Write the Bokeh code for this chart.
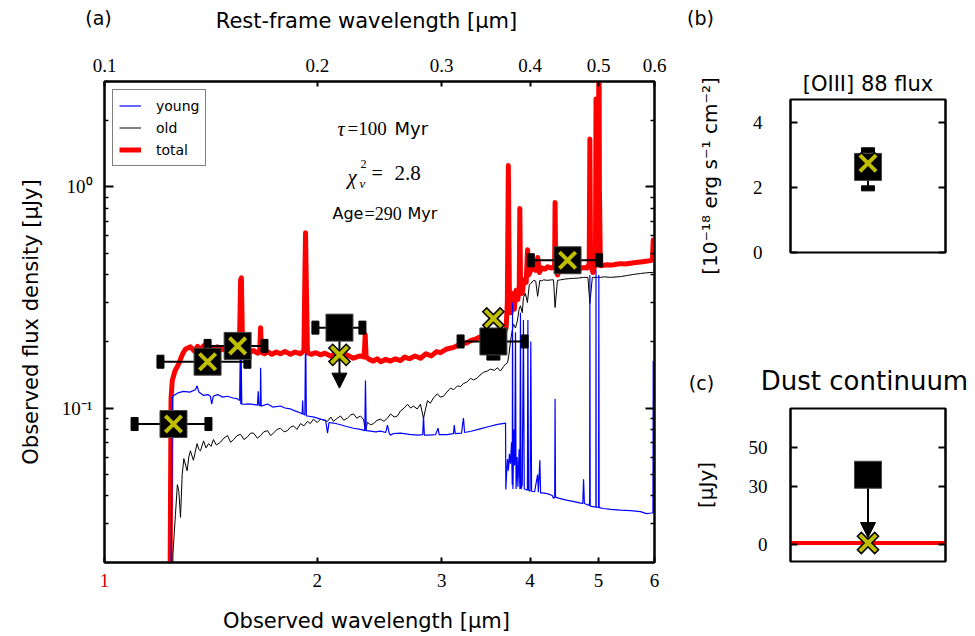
import math
from bokeh.plotting import figure
from bokeh.models import (Range1d, LogAxis, LinearAxis, FixedTicker, CustomJSTickFormatter,
                          Label, Arrow, NormalHead, Legend, LegendItem, LogScale, Span, Title)
from bokeh.layouts import row, column
from bokeh.embed import file_html
from bokeh.resources import INLINE
from bokeh.core.properties import value

# ---------------- data ----------------
redshift = 9.0
wl_range = [1.0, 6.0]          # observed wavelength [um]
flux_range = [0.02, 3.0]       # uJy

x_ticks = [1, 2, 3, 4, 5, 6]
x_tick_labels = ["1", "2", "3", "4", "5", "6"]
rest_ticks = [0.1, 0.2, 0.3, 0.4, 0.5, 0.6]
y_major = [0.1, 1.0]
y_minor = [0.02, 0.03, 0.04, 0.05, 0.06, 0.07, 0.08, 0.09,
           0.2, 0.3, 0.4, 0.5, 0.6, 0.7, 0.8, 0.9, 2.0, 3.0]

wl_total = [1.230, 1.238, 1.242, 1.247, 1.258, 1.273, 1.290, 1.302, 1.323, 1.340, 1.354, 1.367,
            1.381, 1.396, 1.412, 1.430, 1.445, 1.470, 1.493, 1.515, 1.535, 1.552, 1.558, 1.562,
            1.568, 1.585, 1.605, 1.625, 1.646, 1.658, 1.663, 1.668, 1.685, 1.701, 1.725, 1.750,
            1.774, 1.800, 1.833, 1.860, 1.894, 1.915, 1.921, 1.925, 1.929, 1.937, 1.960, 1.990,
            2.021, 2.050, 2.088, 2.120, 2.158, 2.200, 2.250, 2.300, 2.330, 2.338, 2.345, 2.370,
            2.400, 2.430, 2.458, 2.500, 2.539, 2.580, 2.623, 2.660, 2.700, 2.750, 2.799, 2.850,
            2.900, 2.950, 2.988, 3.050, 3.117, 3.190, 3.250, 3.300, 3.350, 3.403, 3.470, 3.550,
            3.610, 3.669, 3.700, 3.715, 3.727, 3.740, 3.760, 3.780, 3.800, 3.820, 3.845, 3.862,
            3.869, 3.878, 3.900, 3.920, 3.950, 3.968, 3.985, 4.010, 4.045, 4.075, 4.102, 4.125,
            4.154, 4.200, 4.234, 4.280, 4.318, 4.334, 4.340, 4.348, 4.374, 4.417, 4.470, 4.520,
            4.570, 4.609, 4.660, 4.715, 4.762, 4.820, 4.850, 4.861, 4.872, 4.910, 4.950, 4.959,
            4.968, 4.990, 5.000, 5.007, 5.014, 5.030, 5.081, 5.150, 5.220, 5.300, 5.370, 5.450,
            5.550, 5.640, 5.732, 5.800, 5.870, 5.930, 5.960, 5.975, 5.990]
flux_total = [0.008, 0.015, 0.110, 0.133, 0.147, 0.158, 0.176, 0.185, 0.189, 0.181, 0.190, 0.184,
              0.191, 0.185, 0.188, 0.183, 0.189, 0.184, 0.188, 0.183, 0.187, 0.186, 0.380, 0.388,
              0.184, 0.181, 0.178, 0.182, 0.177, 0.180, 0.231, 0.178, 0.176, 0.180, 0.175, 0.179,
              0.176, 0.180, 0.175, 0.179, 0.176, 0.182, 0.400, 0.620, 0.400, 0.178, 0.175, 0.178,
              0.174, 0.177, 0.172, 0.176, 0.171, 0.174, 0.168, 0.172, 0.170, 0.215, 0.170, 0.166,
              0.163, 0.167, 0.162, 0.166, 0.163, 0.167, 0.164, 0.170, 0.167, 0.172, 0.168, 0.176,
              0.172, 0.180, 0.178, 0.185, 0.188, 0.195, 0.197, 0.202, 0.205, 0.210, 0.208, 0.214,
              0.212, 0.216, 0.230, 0.300, 1.250, 0.320, 0.270, 0.330, 0.280, 0.340, 0.310, 0.360,
              0.800, 0.360, 0.330, 0.380, 0.370, 0.520, 0.400, 0.420, 0.430, 0.420, 0.480, 0.410,
              0.430, 0.425, 0.435, 0.430, 0.432, 0.450, 0.850, 0.450, 0.400, 0.430, 0.425, 0.430,
              0.428, 0.432, 0.430, 0.428, 0.432, 0.430, 0.450, 1.650, 0.450, 0.410, 0.450, 2.500,
              0.460, 0.460, 1.200, 8.000, 1.000, 0.440, 0.442, 0.445, 0.443, 0.447, 0.450, 0.448,
              0.452, 0.455, 0.458, 0.460, 0.462, 0.465, 0.468, 0.575, 0.470]

wl_old = [1.245, 1.250, 1.260, 1.268, 1.274, 1.281, 1.288, 1.295, 1.309, 1.316, 1.323, 1.336,
          1.352, 1.360, 1.367, 1.381, 1.392, 1.404, 1.415, 1.426, 1.440, 1.459, 1.475, 1.493,
          1.508, 1.523, 1.540, 1.558, 1.575, 1.593, 1.610, 1.625, 1.645, 1.663, 1.680, 1.701,
          1.718, 1.734, 1.755, 1.774, 1.795, 1.815, 1.833, 1.851, 1.872, 1.894, 1.915, 1.937,
          1.955, 1.975, 2.000, 2.021, 2.045, 2.068, 2.090, 2.109, 2.135, 2.158, 2.180, 2.207,
          2.230, 2.251, 2.275, 2.302, 2.325, 2.340, 2.355, 2.380, 2.403, 2.430, 2.458, 2.485,
          2.514, 2.539, 2.570, 2.597, 2.623, 2.655, 2.684, 2.710, 2.736, 2.770, 2.799, 2.827,
          2.864, 2.890, 2.920, 2.958, 2.985, 3.017, 3.050, 3.087, 3.120, 3.158, 3.190, 3.220,
          3.255, 3.294, 3.330, 3.370, 3.400, 3.437, 3.480, 3.517, 3.560, 3.597, 3.633, 3.669,
          3.693, 3.717, 3.735, 3.753, 3.770, 3.790, 3.815, 3.840, 3.860, 3.877, 3.900, 3.915,
          3.940, 3.966, 3.990, 4.010, 4.045, 4.075, 4.100, 4.130, 4.154, 4.180, 4.234, 4.290,
          4.318, 4.340, 4.374, 4.417, 4.480, 4.550, 4.609, 4.680, 4.762, 4.830, 4.861, 4.900,
          4.960, 5.032, 5.100, 5.200, 5.370, 5.500, 5.600, 5.732, 5.850, 5.980]
flux_old = [0.012, 0.022, 0.033, 0.045, 0.042, 0.032, 0.050, 0.059, 0.052, 0.060, 0.064, 0.058,
            0.069, 0.065, 0.064, 0.071, 0.066, 0.069, 0.067, 0.072, 0.068, 0.070, 0.073, 0.075,
            0.070, 0.072, 0.075, 0.076, 0.072, 0.074, 0.077, 0.077, 0.073, 0.075, 0.078, 0.079,
            0.075, 0.077, 0.080, 0.081, 0.078, 0.079, 0.082, 0.083, 0.080, 0.085, 0.083, 0.087,
            0.085, 0.089, 0.086, 0.089, 0.088, 0.087, 0.091, 0.087, 0.090, 0.092, 0.088, 0.090,
            0.093, 0.094, 0.090, 0.092, 0.089, 0.079, 0.086, 0.084, 0.085, 0.088, 0.089, 0.087,
            0.090, 0.094, 0.091, 0.092, 0.097, 0.100, 0.104, 0.100, 0.102, 0.099, 0.104, 0.090,
            0.108, 0.105, 0.111, 0.116, 0.112, 0.113, 0.118, 0.123, 0.121, 0.126, 0.125, 0.129,
            0.131, 0.136, 0.134, 0.137, 0.141, 0.145, 0.147, 0.150, 0.148, 0.152, 0.147, 0.154,
            0.158, 0.160, 0.175, 0.200, 0.220, 0.240, 0.230, 0.250, 0.280, 0.290, 0.270, 0.316,
            0.330, 0.300, 0.360, 0.366, 0.378, 0.375, 0.320, 0.378, 0.376, 0.380, 0.378, 0.380,
            0.380, 0.285, 0.378, 0.380, 0.383, 0.385, 0.386, 0.387, 0.390, 0.390, 0.297, 0.390,
            0.390, 0.390, 0.392, 0.390, 0.393, 0.398, 0.402, 0.406, 0.409, 0.411]

wl_young = [1.240, 1.248, 1.270, 1.294, 1.320, 1.345, 1.352, 1.360, 1.381, 1.400, 1.412, 1.418,
            1.425, 1.445, 1.470, 1.493, 1.520, 1.543, 1.553, 1.556, 1.559, 1.561, 1.564, 1.573,
            1.600, 1.630, 1.646, 1.650, 1.654, 1.661, 1.663, 1.666, 1.701, 1.730, 1.774, 1.800,
            1.833, 1.860, 1.894, 1.904, 1.907, 1.910, 1.921, 1.924, 1.927, 1.930, 1.937, 1.980,
            2.021, 2.055, 2.068, 2.078, 2.109, 2.158, 2.200, 2.250, 2.302, 2.335, 2.340, 2.346,
            2.378, 2.420, 2.458, 2.500, 2.514, 2.528, 2.539, 2.560, 2.623, 2.700, 2.772, 2.820,
            2.827, 2.835, 2.864, 2.940, 2.964, 2.975, 3.050, 3.117, 3.125, 3.135, 3.200, 3.220,
            3.232, 3.300, 3.400, 3.500, 3.600, 3.693, 3.697, 3.705, 3.717, 3.728, 3.740, 3.753,
            3.766, 3.775, 3.778, 3.783, 3.795, 3.805, 3.815, 3.822, 3.835, 3.845, 3.860, 3.870,
            3.877, 3.885, 3.900, 3.915, 3.925, 3.950, 3.966, 3.972, 3.980, 4.000, 4.010, 4.020,
            4.060, 4.100, 4.110, 4.130, 4.140, 4.154, 4.234, 4.300, 4.318, 4.335, 4.340, 4.346,
            4.400, 4.460, 4.520, 4.600, 4.700, 4.750, 4.762, 4.775, 4.850, 4.857, 4.861, 4.866,
            4.950, 4.957, 4.959, 4.962, 5.000, 5.005, 5.010, 5.081, 5.200, 5.370, 5.550, 5.732,
            5.845, 5.941, 5.970, 5.975, 5.980, 6.000]
flux_young = [0.010, 0.113, 0.117, 0.119, 0.118, 0.121, 0.126, 0.118, 0.114, 0.115, 0.113, 0.104,
              0.113, 0.115, 0.112, 0.113, 0.111, 0.110, 0.108, 0.170, 0.104, 0.170, 0.104, 0.104,
              0.1043, 0.1035, 0.103, 0.119, 0.103, 0.102, 0.152, 0.102, 0.1043, 0.101, 0.1021, 0.100,
              0.099, 0.097, 0.0949, 0.094, 0.108, 0.094, 0.093, 0.176, 0.176, 0.092, 0.092, 0.091,
              0.0891, 0.088, 0.077, 0.086, 0.0855, 0.084, 0.0825, 0.081, 0.080, 0.079, 0.133, 0.079,
              0.0786, 0.078, 0.0786, 0.0775, 0.0837, 0.077, 0.0754, 0.0765, 0.077, 0.076, 0.0754, 0.0758,
              0.092, 0.0754, 0.0754, 0.0758, 0.081, 0.0758, 0.0758, 0.0765, 0.0837, 0.0765, 0.077, 0.0901,
              0.0775, 0.0785, 0.0805, 0.0825, 0.0843, 0.0855, 0.0428, 0.050, 0.0587, 0.052, 0.062, 0.056,
              0.070, 0.045, 0.300, 0.043, 0.080, 0.055, 0.220, 0.043, 0.060, 0.044, 0.065, 0.043,
              0.270, 0.043, 0.045, 0.250, 0.043, 0.0428, 0.0425, 0.250, 0.0425, 0.042, 0.200, 0.042,
              0.0418, 0.050, 0.0416, 0.058, 0.0413, 0.0413, 0.041, 0.0402, 0.039, 0.0395, 0.110, 0.0395,
              0.0390, 0.0386, 0.0382, 0.0378, 0.0372, 0.037, 0.0476, 0.037, 0.0362, 0.038, 0.400, 0.036,
              0.0356, 0.036, 0.420, 0.0356, 0.0355, 0.400, 0.0354, 0.0351, 0.0348, 0.0345, 0.0343, 0.0340,
              0.0333, 0.0335, 0.0336, 0.1636, 0.0336, 0.0336]

# photometry (observed) and model photometry
phot_wl = [1.252, 1.399, 1.543, 2.150, 3.550, 4.520]
phot_wl_lo = [1.103, 1.200, 1.399, 1.988, 3.190, 4.010]
phot_wl_hi = [1.403, 1.593, 1.684, 2.317, 3.930, 5.010]
phot_flux = [0.0846, 0.162, 0.191, 0.231, 0.200, 0.466]
phot_upper = [False, False, False, True, False, False]
phot_limit_tip = 0.123
phot_flux_lo = [None, None, None, None, 0.170, None]
model_flux = [0.0846, 0.162, 0.191, 0.174, 0.254, 0.466]

# panel (b): [OIII] 88 flux, 1e-18 erg/s/cm2
oiii_range = [0.0, 4.7]
oiii_ticks = [0, 2, 4]
oiii_obs = 2.63
oiii_lo = 1.97
oiii_hi = 3.14
oiii_model = 2.74

# panel (c): dust continuum, uJy
dust_range = [-8.5, 70.0]
dust_ticks = [0, 30, 50]
dust_obs_limit = 36.0
dust_limit_tip = 3.8
dust_model = 1.0

# ---------------- styling helpers ----------------
SANS = "DejaVu Sans"
SERIF = "Liberation Serif"
YEL = "#bfbf00"
PAGE_W = 975


def style_axis(ax, tick_in=6, minor_in=0, show_labels=True, size="19px"):
    ax.axis_line_color = "black"
    ax.axis_line_width = 2
    ax.major_tick_in = tick_in
    ax.major_tick_out = 0
    ax.minor_tick_in = minor_in
    ax.minor_tick_out = 0
    ax.major_tick_line_width = 2
    ax.minor_tick_line_width = 1.5
    ax.major_label_text_font = SERIF
    ax.major_label_text_font_size = size
    ax.major_label_text_color = "black"
    if not show_labels:
        ax.formatter = CustomJSTickFormatter(code="return '';")
        ax.major_label_text_color = None
        ax.major_label_standoff = 0
    ax.axis_label_text_font = SANS
    ax.axis_label_text_font_style = "normal"
    ax.axis_label_text_font_size = "21px"
    ax.axis_label_text_color = "black"


def lab(p, text, x, y, size="19px", font=SANS, align="center", style="normal", color="black",
        units="screen"):
    p.add_layout(Label(x=x, y=y, x_units=units, y_units=units, text=text,
                       text_font=font, text_font_size=size, text_align=align,
                       text_baseline="middle", text_font_style=style, text_color=color))


def base(p):
    p.grid.visible = False
    p.outline_line_color = "black"
    p.outline_line_width = 2
    p.background_fill_color = "white"
    p.border_fill_color = "white"


def strip(width, height, **kw):
    s = figure(width=width, height=height, output_backend="svg", toolbar_location=None,
               x_axis_location=None, y_axis_location=None, **kw)
    s.grid.visible = False
    s.outline_line_color = None
    s.border_fill_color = "white"
    s.background_fill_color = "white"
    return s


# panel (a) frame geometry (pixels)
A_LEFT, A_FRAME_W, A_RIGHT = 104, 550, 26
A_WIDTH = A_LEFT + A_FRAME_W + A_RIGHT
TOP_H = 36

# ---------------- strip along the top of the page ----------------
st = strip(PAGE_W, TOP_H, x_range=Range1d(0, PAGE_W), y_range=Range1d(TOP_H, 0), min_border=0)
lab(st, "(a)", 98, 17, size="19px", units="data")
lab(st, "Rest-frame wavelength [µm]", 366, 20, size="21px", units="data")
lab(st, "(b)", 700, 17, size="19px", units="data")

# ---------------- panel (a) ----------------
pa = figure(width=A_WIDTH, height=534, x_axis_type="log", y_axis_type="log",
            x_range=Range1d(*wl_range), y_range=Range1d(*flux_range),
            output_backend="svg", toolbar_location=None,
            min_border_left=A_LEFT, min_border_right=A_RIGHT, min_border_top=81 - TOP_H,
            min_border_bottom=8)
base(pa)

xa = pa.xaxis[0]
xa.ticker = FixedTicker(ticks=x_ticks)
style_axis(xa, tick_in=5, show_labels=False)

sup_js = """
const sup = {'-':'\u207b','0':'\u2070','1':'\u00b9','2':'\u00b2','3':'\u00b3','4':'\u2074',
             '5':'\u2075','6':'\u2076','7':'\u2077','8':'\u2078','9':'\u2079'};
const e = Math.round(Math.log10(tick));
return '10' + String(e).split('').map(c => sup[c]).join('');
"""
ya = pa.yaxis[0]
ya.ticker = FixedTicker(ticks=y_major, minor_ticks=y_minor)
ya.formatter = CustomJSTickFormatter(code=sup_js)
style_axis(ya, tick_in=9, minor_in=4)
ya.axis_label = "Observed flux density [µJy]"
ya.major_label_standoff = 12
ya.axis_label_standoff = 16

pa.extra_x_ranges = {"rest": Range1d(wl_range[0] / (1 + redshift), wl_range[1] / (1 + redshift))}
pa.extra_x_scales = {"rest": LogScale()}
ta = LogAxis(x_range_name="rest", ticker=FixedTicker(ticks=rest_ticks),
             formatter=CustomJSTickFormatter(code="return tick.toFixed(1);"))
style_axis(ta, tick_in=5)
ta.major_label_standoff = 10
pa.add_layout(ta, "above")

ra = LogAxis(ticker=FixedTicker(ticks=y_major, minor_ticks=y_minor))
style_axis(ra, tick_in=9, minor_in=4, show_labels=False)
pa.add_layout(ra, "right")

r_total = pa.line(wl_total, flux_total, line_color="red", line_width=5, line_join="round")
r_old = pa.line(wl_old, flux_old, line_color="black", line_width=1)
r_young = pa.line(wl_young, flux_young, line_color="blue", line_width=1.2)

# photometry
lim = [i for i in range(len(phot_wl)) if phot_upper[i]]
pa.segment(x0=phot_wl_lo, y0=phot_flux, x1=phot_wl_hi, y1=phot_flux, line_color="black", line_width=2)
pa.rect(x=phot_wl_lo + phot_wl_hi, y=phot_flux + phot_flux, width=7, height=13,
        width_units="screen", height_units="screen", fill_color="black", line_color="black")
ev = [i for i in range(len(phot_wl)) if phot_flux_lo[i] is not None]
pa.segment(x0=[phot_wl[i] for i in ev], y0=[phot_flux_lo[i] for i in ev],
           x1=[phot_wl[i] for i in ev], y1=[phot_flux[i] for i in ev], line_color="black", line_width=2)
pa.rect(x=[phot_wl[i] for i in ev], y=[phot_flux_lo[i] for i in ev], width=13, height=6,
        width_units="screen", height_units="screen", fill_color="black", line_color="black")
for i in lim:
    arr = Arrow(end=NormalHead(size=15, fill_color="black", line_color="black"),
                x_start=phot_wl[i], y_start=phot_flux[i], x_end=phot_wl[i], y_end=phot_limit_tip,
                line_color="black", line_width=2, level="underlay")
    pa.add_layout(arr)
pa.scatter(x=phot_wl, y=phot_flux, marker="square", size=27, fill_color="black",
           line_color="#444444", line_width=1)
pa.scatter(x=phot_wl, y=model_flux, marker="x", size=26, line_color="black", line_width=7)
pa.scatter(x=phot_wl, y=model_flux, marker="x", size=23, line_color=YEL, line_width=4)

legend = Legend(items=[LegendItem(label="young", renderers=[r_young]),
                       LegendItem(label="old", renderers=[r_old]),
                       LegendItem(label="total", renderers=[r_total])],
                location="top_left", margin=8, padding=6, spacing=3,
                label_text_font=SANS, label_text_font_size="14px", label_text_color="black",
                glyph_width=22, glyph_height=19, label_height=19, label_standoff=15,
                border_line_color="black", border_line_width=1.5, background_fill_alpha=1.0)
pa.add_layout(legend)

# annotations in panel (a) (screen units relative to the frame)
lab(pa, "τ", 233, 434, size="20px", font=SERIF, align="left", style="italic")
lab(pa, "=100", 243, 434, size="19px", font=SERIF, align="left")
lab(pa, "Myr", 290, 434, size="18px", font=SANS, align="left")
lab(pa, "χ", 243, 386, size="21px", font=SERIF, align="left", style="italic")
lab(pa, "2", 256, 399, size="12px", font=SERIF, align="left")
lab(pa, "ν", 255, 379, size="13px", font=SERIF, align="left", style="italic")
lab(pa, "=", 267, 390, size="20px", font=SERIF, align="left")
lab(pa, "2.8", 290, 390, size="21px", font=SERIF, align="left")
lab(pa, "Age", 228, 349, size="16px", font=SANS, align="left")
lab(pa, "=290", 260, 349, size="18px", font=SERIF, align="left")
lab(pa, "Myr", 303, 349, size="16px", font=SANS, align="left")

# ---------------- strip below panel (a): bottom tick labels and axis label ----------------
k_px = A_FRAME_W / math.log10(wl_range[1] / wl_range[0])   # pixels per decade
pad_l, pad_r = 20, 21
sb = strip(A_WIDTH, 64, x_axis_type="log",
           x_range=Range1d(wl_range[0] * 10 ** (-pad_l / k_px), wl_range[1] * 10 ** (pad_r / k_px)),
           y_range=Range1d(64, 0), min_border_left=A_LEFT - pad_l, min_border_right=A_RIGHT - pad_r,
           min_border_top=0, min_border_bottom=0)
sb.text(x=x_ticks, y=[10] * len(x_ticks), text=x_tick_labels,
        text_color=["#cc0000"] + ["black"] * (len(x_ticks) - 1),
        text_font=value(SERIF), text_font_size="19px", text_align="center", text_baseline="middle")
sb.text(x=[wl_range[0] * 10 ** ((366 - A_LEFT) / k_px)], y=[50], text=["Observed wavelength [µm]"],
        text_font=value(SANS), text_font_size="21px", text_align="center", text_baseline="middle")

# ---------------- panel (b) ----------------
pb = figure(width=PAGE_W - A_WIDTH, height=324, x_range=Range1d(0, 1), y_range=Range1d(*oiii_range),
            output_backend="svg", toolbar_location=None,
            min_border_left=110, min_border_right=30, min_border_top=99 - TOP_H, min_border_bottom=108)
base(pb)
pb.xaxis.visible = False
yb = pb.yaxis[0]
yb.ticker = FixedTicker(ticks=oiii_ticks)
style_axis(yb, tick_in=7)
yb.axis_label = "[10⁻¹⁸ erg s⁻¹ cm⁻²]"
yb.axis_label_text_font_size = "20px"
yb.major_label_standoff = 28
yb.axis_label_standoff = 28
rb = LinearAxis(ticker=FixedTicker(ticks=oiii_ticks))
style_axis(rb, tick_in=7, show_labels=False)
pb.add_layout(rb, "right")
pb.segment(x0=[0.5], y0=[oiii_lo], x1=[0.5], y1=[oiii_hi], line_color="black", line_width=2)
pb.rect(x=[0.5, 0.5], y=[oiii_lo, oiii_hi], width=13, height=5, width_units="screen",
        height_units="screen", fill_color="black", line_color="black")
pb.scatter(x=[0.5], y=[oiii_obs], marker="square", size=27, fill_color="black", line_color="#444444")
pb.scatter(x=[0.5], y=[oiii_model], marker="x", size=26, line_color="black", line_width=7)
pb.scatter(x=[0.5], y=[oiii_model], marker="x", size=23, line_color=YEL, line_width=4)
pb.add_layout(Title(text="[OIII] 88 flux", align="center", text_font=SANS, text_font_size="21px",
                    text_font_style="normal", text_color="black", standoff=7), "above")

# ---------------- strip above panel (c) ----------------
scs = strip(PAGE_W - A_WIDTH, 40, x_range=Range1d(0, PAGE_W - A_WIDTH), y_range=Range1d(40, 0),
            min_border=0)
lab(scs, "(c)", 21, 22, size="19px", units="data")
lab(scs, "Dust continuum", 184, 20, size="26px", units="data")

# ---------------- panel (c) ----------------
pc = figure(width=PAGE_W - A_WIDTH, height=211, x_range=Range1d(0, 1), y_range=Range1d(*dust_range),
            output_backend="svg", toolbar_location=None,
            min_border_left=110, min_border_right=30, min_border_top=8, min_border_bottom=50)
base(pc)
pc.xaxis.visible = False
yc = pc.yaxis[0]
yc.ticker = FixedTicker(ticks=dust_ticks)
style_axis(yc, tick_in=7)
yc.axis_label = "[µJy]"
yc.axis_label_text_font_size = "20px"
yc.major_label_standoff = 23
yc.axis_label_standoff = 28
rc = LinearAxis(ticker=FixedTicker(ticks=dust_ticks))
style_axis(rc, tick_in=7, show_labels=False)
pc.add_layout(rc, "right")
pc.add_layout(Span(location=dust_model, dimension="width", line_color="red", line_width=4,
                   level="underlay"))
pc.add_layout(Arrow(end=NormalHead(size=15, fill_color="black", line_color="black"),
                    x_start=0.5, y_start=dust_obs_limit, x_end=0.5, y_end=dust_limit_tip,
                    line_color="black", line_width=2, level="underlay"))
pc.scatter(x=[0.5], y=[dust_obs_limit], marker="square", size=27, fill_color="black", line_color="#444444")
pc.scatter(x=[0.5], y=[dust_model], marker="x", size=26, line_color="black", line_width=7)
pc.scatter(x=[0.5], y=[dust_model], marker="x", size=23, line_color=YEL, line_width=4)

layout = column(st, row(column(pa, row(sb)), column(pb, row(scs), pc)))
open("out.html", "w").write(file_html(layout, INLINE))
